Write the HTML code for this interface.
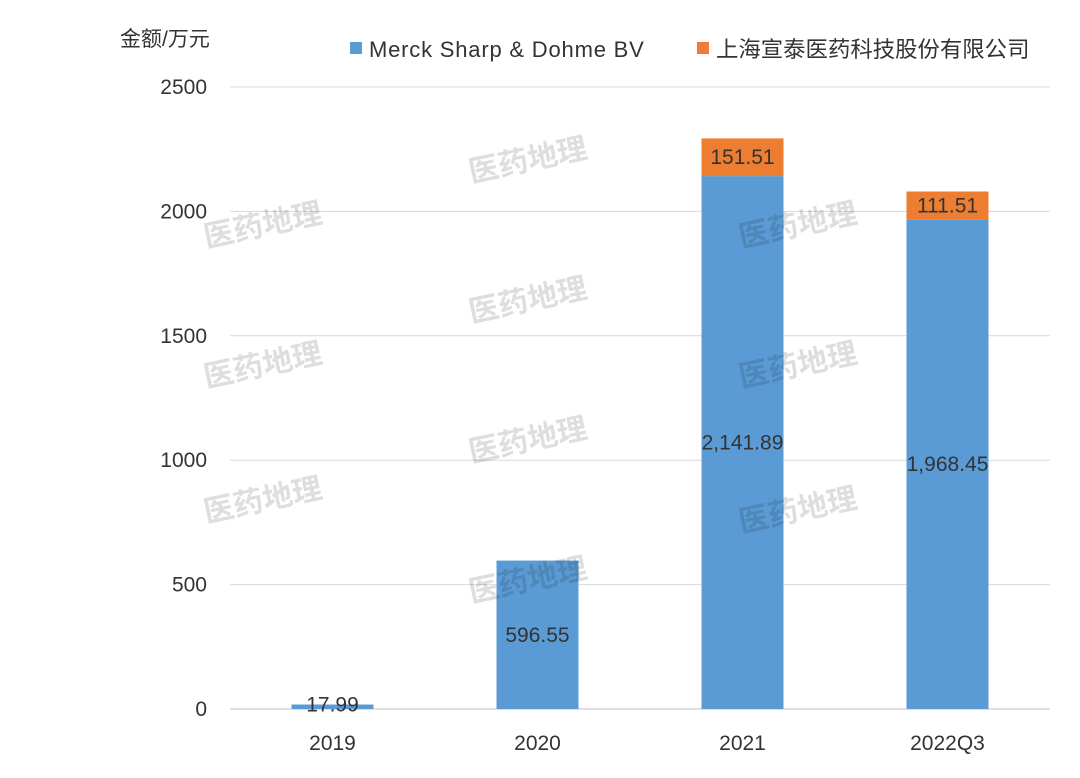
<!DOCTYPE html>
<html><head><meta charset="utf-8">
<style>
body{margin:0;background:#fff;width:1080px;height:773px;overflow:hidden;font-family:"Liberation Sans","Noto Sans CJK SC",sans-serif;}
svg text{font-family:"Liberation Sans","Noto Sans CJK SC",sans-serif;}
</style></head>
<body>
<svg id="chart" width="1080" height="773">
<g id="grid"></g>
<g id="yticks"></g>
<g id="bars"></g>
<g id="xticks"></g>
<g id="wm"></g>
<text x="120" y="46" font-size="21" fill="#333">金额/万元</text>
<g>
<g>
<rect x="350" y="42" width="12" height="12" fill="#5b9bd5"/>
<text x="369" y="57" font-size="22" letter-spacing="0.8" fill="#333">Merck Sharp &amp; Dohme BV</text></g>
<g>
<rect x="697" y="42" width="12" height="12" fill="#ed7d31"/>
<text x="716" y="57" font-size="22.4" fill="#333">上海宣泰医药科技股份有限公司</text></g>
</g>
</svg>
<script>
const categories=["2019","2020","2021","2022Q3"];
const merck=[17.99,596.55,2141.89,1968.45];
const yitai=[0,0,151.51,111.51];
const merckLabels=["17.99","596.55","2,141.89","1,968.45"];
const yitaiLabels=["","","151.51","111.51"];
const yTicks=[0,500,1000,1500,2000,2500];
const NS="http://www.w3.org/2000/svg";
const x0=230,x1=1050,yBase=709,yTop=87,yMax=2500;
const y=v=>yBase-(v/yMax)*(yBase-yTop);
const band=(x1-x0)/categories.length;
const xc=i=>x0+band*(i+0.5);
const bw=82;
function mk(tag,attrs,parent,txt){const e=document.createElementNS(NS,tag);for(const k in attrs)e.setAttribute(k,attrs[k]);if(txt!==undefined)e.textContent=txt;parent.appendChild(e);return e;}
const grid=document.getElementById('grid'),yt=document.getElementById('yticks'),bars=document.getElementById('bars'),xt=document.getElementById('xticks'),wm=document.getElementById('wm');
yTicks.forEach(t=>{
 const l=mk('line',{x1:x0,x2:x1,y1:y(t),y2:y(t),stroke:t===0?'#bfbfbf':'#d9d9d9','stroke-width':1},grid);
 
 
 const tx=mk('text',{x:207,y:y(t)+7,'text-anchor':'end','font-size':21,fill:'#333'},yt,String(t));
 
 
});
categories.forEach((c,i)=>{
 const m=merck[i],s=yitai[i];
 const r=mk('rect',{x:xc(i)-bw/2,y:y(m),width:bw,height:Math.max(yBase-y(m),1.5),fill:'#5b9bd5'},bars);
 
 
 if(s>0){
  const r2=mk('rect',{x:xc(i)-bw/2,y:y(m+s),width:bw,height:y(m)-y(m+s),fill:'#ed7d31'},bars);
  
  
  const t2=mk('text',{x:xc(i),y:(y(m)+y(m+s))/2+7,'text-anchor':'middle','font-size':21,fill:'#333'},bars,yitaiLabels[i]);
  
  
 }
 const ly=m<100?y(m)+7:(y(m)+yBase)/2+7;
 const t=mk('text',{x:xc(i),y:ly,'text-anchor':'middle','font-size':21,fill:'#333'},bars,merckLabels[i]);
 
 
 const xl=mk('text',{x:xc(i),y:750,'text-anchor':'middle','font-size':21,fill:'#333'},xt,c);
 
 
});
[[265,235],[265,375],[265,510],[530,170],[530,310],[530,450],[530,590],[800,235],[800,375],[800,520]].forEach(p=>{
 const w=mk('text',{x:p[0],y:p[1],'text-anchor':'middle','font-size':30,'font-weight':'bold',fill:'#000','fill-opacity':0.13,transform:`rotate(-12 ${p[0]} ${p[1]})`},wm,'医药地理');
 
 
});
</script>
</body></html>
